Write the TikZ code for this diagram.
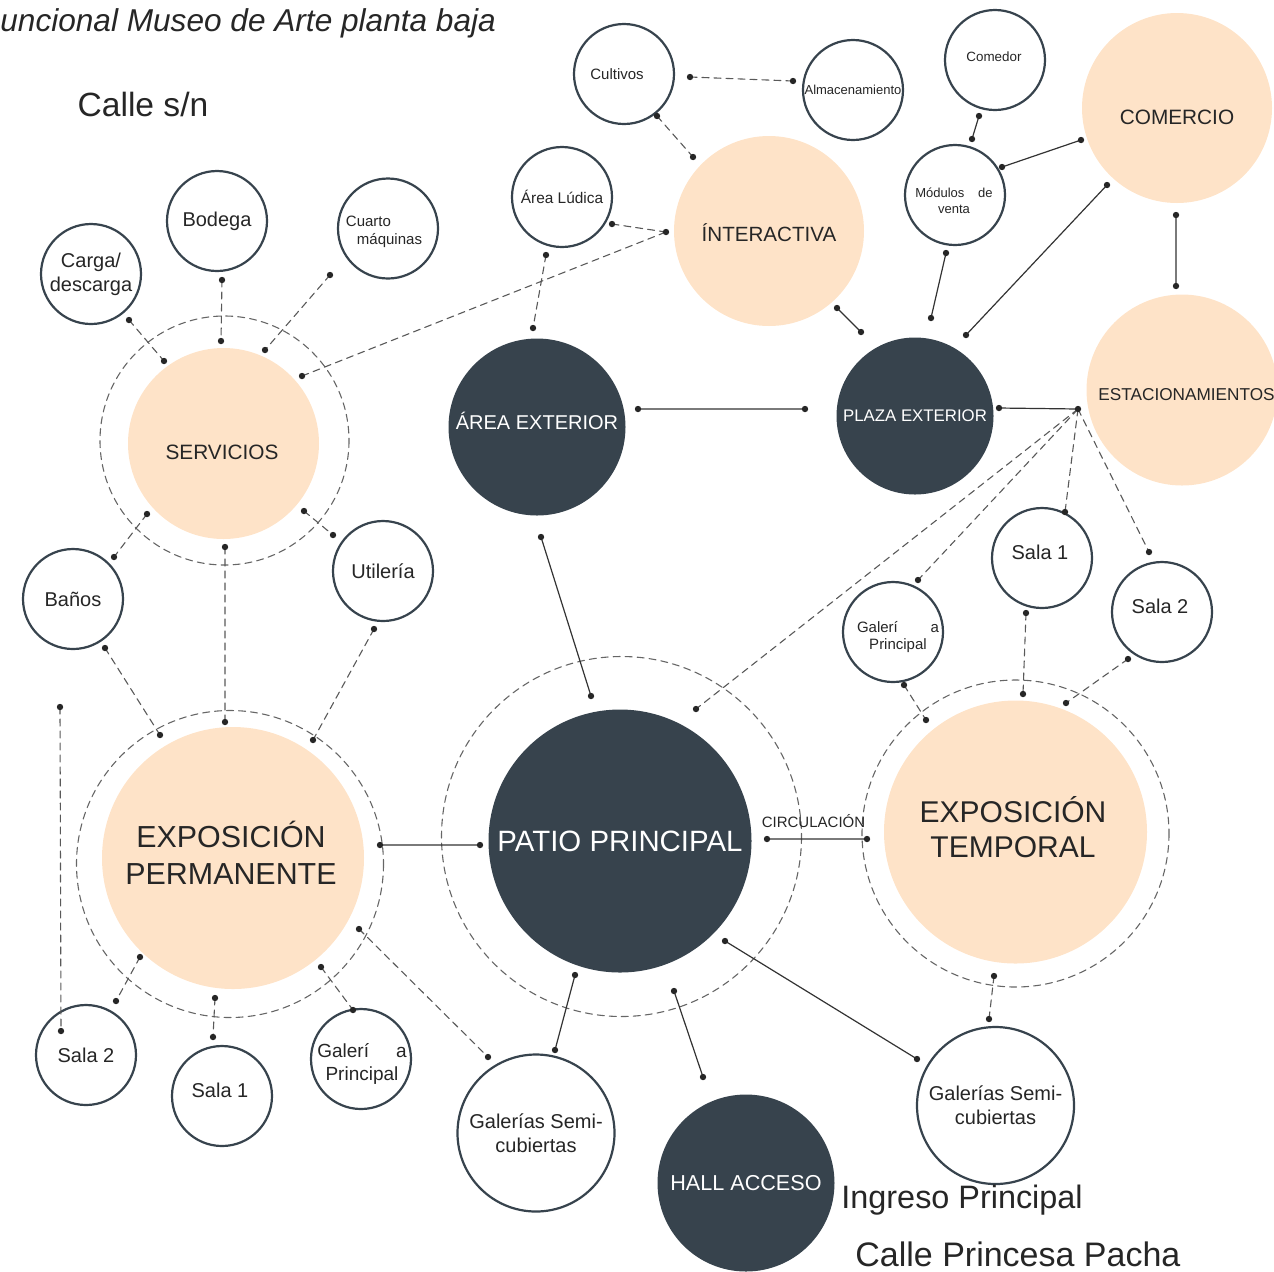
\documentclass[tikz,border=0pt]{standalone}
\usepackage{fontspec}
\setmainfont{Liberation Sans}
\definecolor{peach}{HTML}{FEE3C8}
\definecolor{slate}{HTML}{37434D}
\definecolor{ink}{HTML}{262626}
\newcommand\fs[2]{\fontsize{#1}{#2}\selectfont}
\begin{document}
\begin{tikzpicture}[x=0.5pt,y=-0.5pt,line cap=round,line join=round,
  room/.style={circle,draw=slate,line width=1.1pt,fill=white,text=ink,inner sep=0pt,minimum size=50pt,align=center,font=\fs{10}{12}},
  zone/.style={circle,fill=peach,text=ink,inner sep=0pt,align=center,font=\fs{10}{12}},
  core/.style={circle,fill=slate,text=white,inner sep=0pt,align=center},
  ring/.style={draw=black!60,line width=0.55pt,dash pattern=on 3.5pt off 2.5pt},
  link/.style={draw=black!80,line width=0.6pt},
  dlink/.style={draw=black!65,line width=0.55pt,dash pattern=on 3.5pt off 2.5pt},
  txt/.style={inner sep=0pt,text=ink,align=center,font=\fs{10}{12}}]
\useasboundingbox (0,0) rectangle (1274,1271);
% dashed rings round the main zones
\draw[ring] (224.5,440.5) circle[radius=124.5];
\draw[ring] (230,864) circle[radius=153.5];
\draw[ring] (621.5,836.5) circle[radius=180];
\draw[ring] (1015.5,833.5) circle[radius=153.5];
% zones
\node[zone,minimum size=95pt] (comer) at (1177,108) {};
\node[zone,minimum size=95pt] (inter) at (769,231) {};
\node[zone,minimum size=95.5pt] (serv) at (223.5,443.5) {};
\node[zone,minimum size=95.5pt] (estac) at (1182,390) {};
\node[zone,minimum size=131pt] (expP) at (233,858) {};
\node[zone,minimum size=131.5pt] (expT) at (1015.5,832) {};
\node[core,minimum size=88.5pt] (aext) at (537,427) {};
\node[core,minimum size=78.5pt,font=\fs{8.4}{10}] (plaza) at (915,416) {PLAZA EXTERIOR};
\node[core,minimum size=131.5pt,font=\fs{14.7}{17}] (patio) at (620,841) {PATIO PRINCIPAL};
\node[core,minimum size=88.5pt,font=\fs{10.8}{13}] (hall) at (746,1183) {HALL ACCESO};
% rooms
\node[room] (cult) at (624,74) {};
\node[room,font=\fs{6.5}{8}] (alma) at (853,90) {Almacenamiento};
\node[room] (come) at (995,60) {};
\node[room,font=\fs{7.7}{9}] (ludi) at (562,197) {Área Lúdica};
\node[room] (modu) at (955,195) {};
\node[room] (bode) at (217,221) {Bodega};
\node[room] (cuar) at (388,228.5) {};
\node[room] (carg) at (91,274) {Carga/\\descarga};
\node[room] (bano) at (73,599) {Baños};
\node[room] (util) at (383,571) {Utilería};
\node[room] (salaR1) at (1042,558) {};
\node[room] (salaR2) at (1162,612) {};
\node[room] (galeR) at (893,632) {};
\node[room] (salaL2) at (86,1055) {Sala 2};
\node[room] (salaL1) at (222,1096) {};
\node[room] (galeL) at (361,1059) {};
\node[room,minimum size=78.5pt] (semiL) at (536,1133) {Galerías Semi-\\cubiertas};
\node[room,minimum size=78.5pt] (semiR) at (995.5,1105.5) {Galerías Semi-\\cubiertas};
% labels set apart from their circles
\node[txt,font=\fs{10.4}{12}] (comerT) at (1177,117) {COMERCIO};
\node[txt,font=\fs{10.3}{12}] (interT) at (769,233) {ÍNTERACTIVA};
\node[txt,font=\fs{10.4}{12}] (servT) at (222,452.5) {SERVICIOS};
\node[txt,font=\fs{8.6}{10}] (estacT) at (1186.5,395) {ESTACIONAMIENTOS};
\node[txt,font=\fs{15.2}{18.5}] (expPT) at (231,853) {EXPOSICIÓN\\PERMANENTE};
\node[txt,font=\fs{15}{17.5}] (expTT) at (1013,827) {EXPOSICIÓN\\TEMPORAL};
\node[txt,text=white,font=\fs{10}{12}] (aextT) at (537,421) {ÁREA EXTERIOR};
\node[txt,font=\fs{7.5}{9}] (cultT) at (617,74) {Cultivos};
\node[txt,font=\fs{6.7}{8}] (comeT) at (994,57) {Comedor};
\node[txt,font=\fs{6.5}{8.2}] (moduT) at (954,200.5) {\makebox[38.7pt]{Módulos\hfill de}\\venta};
\node[txt,font=\fs{7.5}{9},align=left] (cuarT) at (384,231.5) {Cuarto\\\hspace*{5.5pt}máquinas};
\node[txt] (salaR1T) at (1040,552) {Sala 1};
\node[txt] (salaR2T) at (1160,606) {Sala 2};
\node[txt] (salaL1T) at (220,1090) {Sala 1};
\node[txt,font=\fs{7.5}{8.5}] (galeRT) at (898,637) {\makebox[41pt]{Galerí\hfill a}\\Principal};
\node[txt,font=\fs{9.5}{11.5}] (galeLT) at (362,1063.5) {\makebox[44.7pt]{Galerí\hfill a}\\Principal};
% end points of the links
\foreach \n/\x/\y in {cul1/690/77,alm1/793/81,cul2/657/116,int1/693/157,lud1/612/224,int2/666/232,
  srv1/302/376,lud2/546/255,ext1/533/328,bod1/222/280,srv2/221/341,cua1/330/275,srv3/265/350,
  car1/129/320,srv4/164/361,srv5/147/514,ban1/114/557,srv6/304/511,uti1/333/535,srv7/225/547,
  per1/225/722,ban2/105/648,per2/160/735,uti2/374/629,per3/313/740,per4/140/957,sl21/116/1001,
  per5/215/998,sl11/213/1037,per6/321/967,gal1/353/1010,per7/359/929,sel1/488/1057,
  tem1/994/976,ser1/989/1019,gar1/904/685,tem2/926/720,sr11/1026/613,tem3/1023/694,
  sr21/1128/659,tem4/1066/703,jct/1078/409,sr12/1065/512,sr22/1149/552,gar2/918/580,
  pat1/696/709,free/60/707,sl22/61/1031,
  int3/837/308,plz1/861/332,com1/979/116,mod1/972/139,mod2/1002/167,cme1/1081/140,
  mod3/946/253,plz2/931/318,cme2/1107/185,plz3/966/335,cme3/1176/215,est1/1176/286,
  ext2/638/409,plz4/805/409,plz5/999/408,ext3/541/537,pat2/591/696,per8/380/845,pat3/480/845,
  pat4/767/839,tem5/867/839,pat5/575/975,sel2/555/1050,pat6/674/991,hal1/703/1077,
  pat7/725/941,ser2/917/1059}
  \coordinate (\n) at (\x,\y);
% dashed links
\draw[dlink] (cul1)--(alm1) (cul2)--(int1) (lud1)--(int2) (srv1)--(int2) (lud2)--(ext1)
  (bod1)--(srv2) (cua1)--(srv3) (car1)--(srv4) (srv5)--(ban1) (srv6)--(uti1) (srv7)--(per1)
  (ban2)--(per2) (uti2)--(per3) (per4)--(sl21) (per5)--(sl11) (per6)--(gal1) (per7)--(sel1)
  (tem1)--(ser1) (gar1)--(tem2) (sr11)--(tem3) (sr21)--(tem4)
  (jct)--(sr12) (jct)--(sr22) (jct)--(gar2) (jct)--(pat1) (free)--(sl22);
% solid links
\draw[link] (int3)--(plz1) (com1)--(mod1) (mod2)--(cme1) (mod3)--(plz2) (cme2)--(plz3)
  (cme3)--(est1) (ext2)--(plz4) (plz5)--(jct) (ext3)--(pat2) (per8)--(pat3) (pat4)--(tem5)
  (pat5)--(sel2) (pat6)--(hal1) (pat7)--(ser2);
\foreach \p in {cul1,alm1,cul2,int1,lud1,int2,srv1,lud2,ext1,bod1,srv2,cua1,srv3,car1,srv4,
  srv5,ban1,srv6,uti1,srv7,per1,ban2,per2,uti2,per3,per4,sl21,per5,sl11,per6,gal1,per7,sel1,
  tem1,ser1,gar1,tem2,sr11,tem3,sr21,tem4,jct,sr12,sr22,gar2,pat1,free,sl22,
  int3,plz1,com1,mod1,mod2,cme1,mod3,plz2,cme2,plz3,cme3,est1,ext2,plz4,plz5,ext3,pat2,
  per8,pat3,pat4,tem5,pat5,sel2,pat6,hal1,pat7,ser2}
  \fill[black!85] (\p) circle[radius=3.2];
% free texts
\node[txt,anchor=base,font=\fs{7.5}{9}] (circ) at (813.5,827) {CIRCULACIÓN};
\node[txt,anchor=base west,font=\fs{15.8}{19}\itshape] (title) at (0,31.5) {uncional Museo de Arte planta baja};
\node[txt,anchor=base,font=\fs{16.8}{20}] (calle) at (143,116) {Calle s/n};
\node[txt,anchor=base west,font=\fs{16.2}{19}] (ingreso) at (841,1208) {Ingreso Principal};
\node[txt,anchor=base west,font=\fs{17}{20}] (princesa) at (855,1266.5) {Calle Princesa Pacha};
\end{tikzpicture}
\end{document}
